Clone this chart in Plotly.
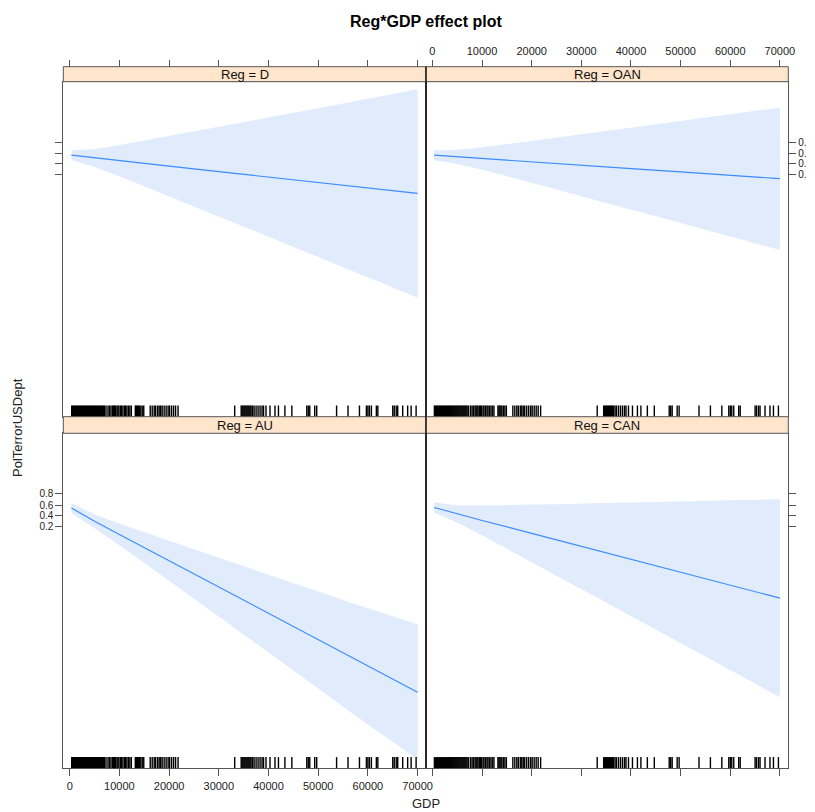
import numpy as np
import plotly.graph_objects as go

# ---------------- data ----------------
regions = ["D", "OAN", "AU", "CAN"]
gdp = [350, 5000, 10000, 20000, 30000, 40000, 50000, 60000, 70000]

# logit-scale values of the fitted effect and its confidence band
fit_D = [0.29, 0.06, -0.17, -0.64, -1.10, -1.56, -2.03, -2.49, -2.95]
upper_D = [0.72, 0.82, 1.16, 1.92, 2.70, 3.49, 4.27, 5.07, 5.88]
lower_D = [-0.14, -0.70, -1.50, -3.20, -4.90, -6.61, -8.33, -10.05, -11.78]

fit_OAN = [0.29, 0.15, 0.01, -0.28, -0.56, -0.85, -1.13, -1.42, -1.70]
upper_OAN = [0.72, 0.76, 0.97, 1.49, 2.06, 2.62, 3.19, 3.76, 4.32]
lower_OAN = [-0.14, -0.46, -0.95, -2.05, -3.18, -4.32, -5.45, -6.60, -7.74]

fit_AU = [0.19, -0.93, -2.05, -4.28, -6.52, -8.76, -10.99, -13.23, -15.42]
upper_AU = [0.62, -0.34, -1.13, -2.59, -4.03, -5.46, -6.88, -8.31, -9.66]
lower_AU = [-0.24, -1.52, -2.97, -5.97, -9.01, -12.06, -15.10, -18.15, -21.10]

fit_CAN = [0.23, -0.32, -0.87, -1.96, -3.06, -4.16, -5.26, -6.35, -7.45]
upper_CAN = [0.68, 0.43, 0.41, 0.48, 0.56, 0.65, 0.74, 0.85, 0.94]
lower_CAN = [-0.22, -1.07, -2.15, -4.40, -6.68, -8.97, -11.26, -13.55, -15.84]

# observed GDP values shown as rug (thousands)
rug_k = [0.4, 0.6, 0.8, 1.0, 1.2, 1.4, 1.6, 1.8, 2.0, 2.2, 2.4, 2.6, 2.8, 3.0, 3.2, 3.4,
         3.6, 3.8, 4.0, 4.2, 4.4, 4.6, 4.8, 5.0, 5.2, 5.4, 5.6, 5.8, 6.0, 6.2, 6.4, 6.6,
         6.8, 7.0, 7.3, 7.7, 8.0, 8.3, 8.6, 8.8, 9.0, 9.2, 9.5, 9.7, 9.9, 10.2, 10.4,
         10.7, 11.0, 11.2, 11.5, 11.8, 12.1, 12.4, 13.2, 13.4, 13.6, 13.8, 14.0, 14.3,
         14.6, 14.9, 16.2, 16.6, 17.0, 17.3, 17.7, 18.0, 18.3, 18.6, 19.0, 19.4, 19.8,
         20.1, 20.5, 20.9, 21.3, 21.8, 33.2, 34.5, 34.7, 34.9, 35.1, 35.3, 35.5, 35.7,
         35.9, 36.1, 36.3, 36.5, 36.8, 37.1, 37.5, 37.9, 38.3, 38.7, 39.0, 39.5, 40.3,
         41.3, 42.0, 43.3, 44.7, 47.7, 48.0, 48.3, 49.3, 49.7, 53.7, 56.0, 58.3, 59.7,
         60.0, 60.3, 60.7, 61.7, 62.0, 65.0, 65.3, 65.7, 66.0, 67.0, 68.0, 68.7, 69.7]

x_ticks = [0, 10000, 20000, 30000, 40000, 50000, 60000, 70000]
x_tick_labels = ["0", "10000", "20000", "30000", "40000", "50000", "60000", "70000"]
prob_ticks = [0.2, 0.4, 0.6, 0.8]
prob_tick_labels = ["0.2", "0.4", "0.6", "0.8"]

title = "Reg*GDP effect plot"
x_title = "GDP"
y_title = "PolTerrorUSDept"

# ---------------- styling ----------------
OFF = 8                      # page body margin of the browser
W, H = 815 - OFF, 812 - OFF
X_RANGE = [-1290, 71690]
Y_RANGE = [-21.87, 6.52]
LINE_COL = "#3b8cff"
BAND_COL = "#e0ebfc"
STRIP_COL = "#ffe5cc"
FRAME_COL = "#555555"
FONT = "Liberation Sans, Arial, sans-serif"

def fx(px):
    return (px - OFF) / W

def fy(px):
    return 1 - (px - OFF) / H

xdom_L = [fx(63.3), fx(426.0)]
xdom_R = [fx(426.0), fx(788.3)]
ydom_T = [fy(416.7), fy(81.7)]
ydom_B = [fy(768.3), fy(433.3)]
strip_T = [fy(81.7), fy(66.7)]
strip_B = [fy(433.3), fy(416.7)]

panels = [
    ("D", fit_D, upper_D, lower_D, "x", "y"),
    ("OAN", fit_OAN, upper_OAN, lower_OAN, "x2", "y2"),
    ("AU", fit_AU, upper_AU, lower_AU, "x3", "y3"),
    ("CAN", fit_CAN, upper_CAN, lower_CAN, "x4", "y4"),
]

logit_ticks = [float(np.log(p / (1 - p))) for p in prob_ticks]
rug = [v * 1000 for v in rug_k]

fig = go.Figure()
for name, fit, up, lo, xa, ya in panels:
    fig.add_trace(go.Scatter(x=gdp, y=up, mode="lines", line=dict(width=0, shape="spline", smoothing=0.6),
                             xaxis=xa, yaxis=ya, showlegend=False, hoverinfo="skip"))
    fig.add_trace(go.Scatter(x=gdp, y=lo, mode="lines", line=dict(width=0, shape="spline", smoothing=0.6),
                             fill="tonexty", fillcolor=BAND_COL,
                             xaxis=xa, yaxis=ya, showlegend=False, hoverinfo="skip"))
    fig.add_trace(go.Scatter(x=gdp, y=fit, mode="lines", line=dict(color=LINE_COL, width=1.2),
                             xaxis=xa, yaxis=ya, showlegend=False, name=name))
    fig.add_trace(go.Scatter(x=rug, y=[Y_RANGE[0]] * len(rug), mode="markers",
                             marker=dict(symbol="line-ns", size=16, color="black",
                                         line=dict(width=1.4, color="black")),
                             cliponaxis=True, xaxis=xa, yaxis=ya, showlegend=False, hoverinfo="skip"))

# invisible traces so the top tick axes are drawn
fig.add_trace(go.Scatter(x=[0], y=[0], mode="markers", marker=dict(opacity=0), xaxis="x5", yaxis="y",
                         showlegend=False, hoverinfo="skip"))
fig.add_trace(go.Scatter(x=[0], y=[0], mode="markers", marker=dict(opacity=0), xaxis="x6", yaxis="y2",
                         showlegend=False, hoverinfo="skip"))

tickfont = dict(family=FONT, size=11, color="#222222")
ytickfont = dict(family=FONT, size=10, color="#222222")
common_x = dict(range=X_RANGE, showgrid=False, zeroline=False, showline=True, linecolor=FRAME_COL,
                linewidth=1, mirror=True, tickvals=x_ticks, ticktext=x_tick_labels,
                tickcolor=FRAME_COL, ticklen=7, tickfont=tickfont, automargin=False)
common_y = dict(range=Y_RANGE, showgrid=False, zeroline=False, showline=True, linecolor=FRAME_COL,
                linewidth=1, mirror=True, tickvals=logit_ticks, ticktext=prob_tick_labels,
                tickcolor=FRAME_COL, ticklen=7, tickfont=ytickfont, automargin=False)

fig.update_layout(
    width=W, height=H,
    margin=dict(l=0, r=0, t=0, b=0, pad=0, autoexpand=False),
    paper_bgcolor="white", plot_bgcolor="white",
    font=dict(family=FONT),
    xaxis=dict(common_x, domain=xdom_L, anchor="y", ticks="", showticklabels=False),
    xaxis2=dict(common_x, domain=xdom_R, anchor="y2", ticks="", showticklabels=False),
    xaxis3=dict(common_x, domain=xdom_L, anchor="y3", ticks="outside", showticklabels=True, side="bottom"),
    xaxis4=dict(common_x, domain=xdom_R, anchor="y4", ticks="outside", showticklabels=False, side="bottom"),
    xaxis5=dict(range=X_RANGE, overlaying="x", anchor="free", position=strip_T[1], side="top",
                showgrid=False, zeroline=False, showline=False, tickvals=x_ticks, ticks="outside",
                ticklen=7, tickcolor=FRAME_COL, showticklabels=False, automargin=False),
    xaxis6=dict(range=X_RANGE, overlaying="x2", anchor="free", position=strip_T[1], side="top",
                showgrid=False, zeroline=False, showline=False, tickvals=x_ticks, ticktext=x_tick_labels,
                ticks="outside", ticklen=7, tickcolor=FRAME_COL, showticklabels=True, tickfont=tickfont,
                automargin=False),
    yaxis=dict(common_y, domain=ydom_T, anchor="x", side="left", ticks="outside", showticklabels=False),
    yaxis2=dict(common_y, domain=ydom_T, anchor="x2", side="right", ticks="outside", showticklabels=True),
    yaxis3=dict(common_y, domain=ydom_B, anchor="x3", side="left", ticks="outside", showticklabels=True),
    yaxis4=dict(common_y, domain=ydom_B, anchor="x4", side="right", ticks="outside", showticklabels=False),
)

shapes = []
annotations = []
strip_defs = [("D", xdom_L, strip_T), ("OAN", xdom_R, strip_T), ("AU", xdom_L, strip_B), ("CAN", xdom_R, strip_B)]
for name, xd, sd in strip_defs:
    shapes.append(dict(type="rect", xref="paper", yref="paper", x0=xd[0], x1=xd[1], y0=sd[0], y1=sd[1],
                       fillcolor=STRIP_COL, line=dict(color=FRAME_COL, width=1), layer="above"))
    annotations.append(dict(text="Reg = " + name, xref="paper", yref="paper", x=(xd[0] + xd[1]) / 2,
                            y=(sd[0] + sd[1]) / 2, showarrow=False, xanchor="center", yanchor="middle",
                            font=dict(family=FONT, size=13, color="#111111")))

# divider between left and right panels
shapes.append(dict(type="line", xref="paper", yref="paper", x0=xdom_L[1], x1=xdom_L[1],
                   y0=ydom_B[0], y1=strip_T[1], line=dict(color="#111111", width=1.3)))

annotations.append(dict(text="<b>" + title + "</b>", xref="paper", yref="paper", x=fx(425.7), y=fy(22),
                        showarrow=False, xanchor="center", yanchor="middle",
                        font=dict(family=FONT, size=16, color="black")))
annotations.append(dict(text=x_title, xref="paper", yref="paper", x=fx(425.7), y=fy(803),
                        showarrow=False, xanchor="center", yanchor="middle",
                        font=dict(family=FONT, size=13, color="#222222")))
annotations.append(dict(text=y_title, xref="paper", yref="paper", x=fx(18), y=fy(428),
                        showarrow=False, xanchor="center", yanchor="middle", textangle=-90,
                        font=dict(family=FONT, size=13, color="#222222")))

fig.update_layout(shapes=shapes, annotations=annotations)
fig.write_html("out.html")
